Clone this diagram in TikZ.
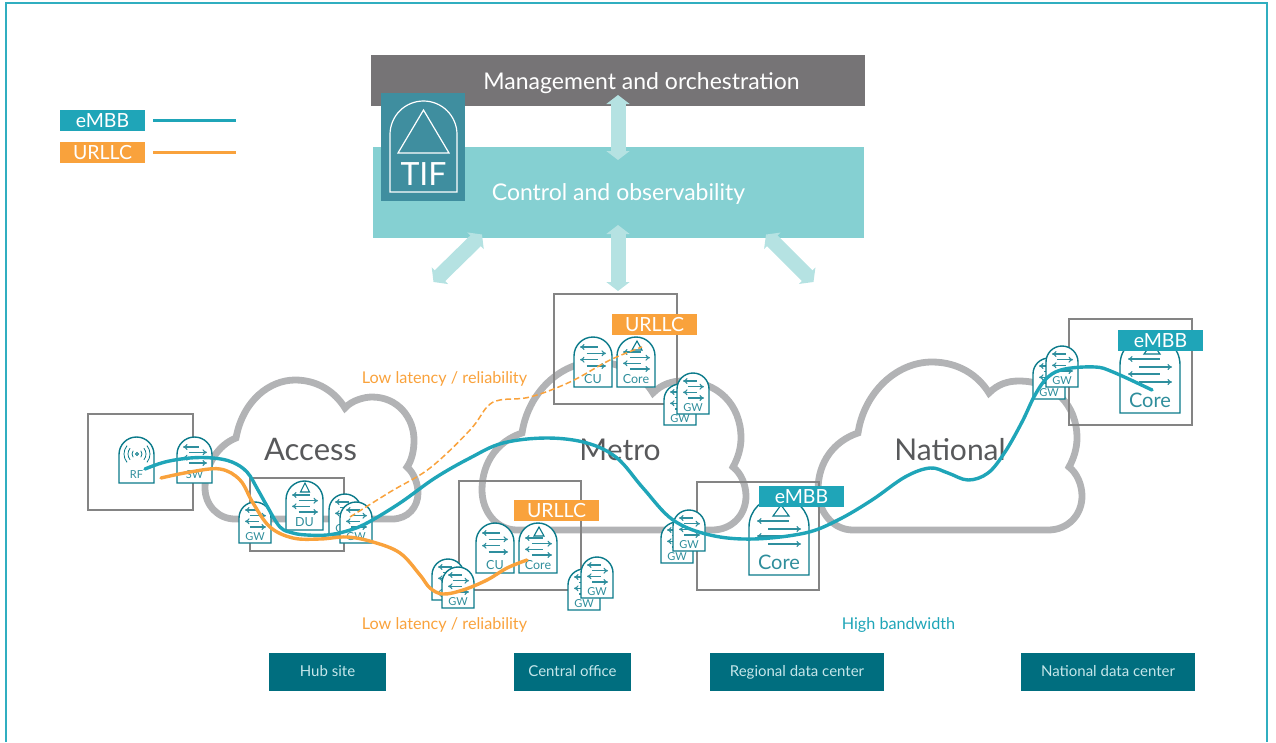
\documentclass[tikz,border=0pt]{standalone}
\usepackage{fontspec}
\setmainfont{Lato}
\usetikzlibrary{arrows.meta}
\definecolor{framecol}{HTML}{30AEC0}
\definecolor{mgmtcol}{HTML}{767476}
\definecolor{ctrlcol}{HTML}{85D0D2}
\definecolor{tifcol}{HTML}{3F8E9F}
\definecolor{fatcol}{HTML}{B5E2E2}
\definecolor{embbcol}{HTML}{1FA5B8}
\definecolor{urllccol}{HTML}{F9A23C}
\definecolor{cloudcol}{HTML}{B2B3B5}
\definecolor{sitecol}{HTML}{006E7F}
\definecolor{sitetext}{HTML}{C5E6EA}
\definecolor{devcol}{HTML}{0A7A8A}
\definecolor{arrowcol}{HTML}{2F8F9E}
\definecolor{cloudtext}{HTML}{58595B}
\definecolor{boxcol}{HTML}{848484}
\tikzset{
    panel/.style={inner sep=0pt,text=white,font=\fontsize{23}{27}\selectfont},
    fatarrow/.style={draw=fatcol,line width=15pt,{Triangle[length=9pt,width=23pt]}-{Triangle[length=9pt,width=23pt]}},
    tagbox/.style={inner sep=0pt,minimum width=85pt,minimum height=21pt,text height=13.5pt,text depth=0pt,text=white,font=\fontsize{19.5}{22}\selectfont},
    sitebox/.style={fill=sitecol,inner sep=0pt,minimum height=38pt,text height=11pt,text depth=3pt,text=sitetext,font=\fontsize{15}{18}\selectfont},
    cloudline/.style={draw=cloudcol,line width=6.8pt,line join=miter},
    cloudlabel/.style={inner sep=0pt,text=cloudtext,font=\fontsize{30}{35}\selectfont},
    sitearea/.style={draw=boxcol,line width=1.3pt},
    devline/.style={draw=devcol,fill=white,line width=1.4pt},
    devarrow/.style={draw=arrowcol,line width=1.1pt,>={To[length=4.5pt,width=6pt]}},
    wire/.style={line width=3.4pt,line cap=round,smooth,tension=.6},
    note/.style={inner sep=0pt,font=\fontsize{16.2}{19}\selectfont},
}
%% dome outline with its label: name, left, top, width, height, label, drop of label, size
\newcommand{\devicebox}[8]{%
    \draw[devline] (#2,#3+#5) -- (#2,#3+#4/2) arc[start angle=180,end angle=360,radius=#4/2] -- (#2+#4,#3+#5) -- cycle;
    \node[inner sep=0pt,text=devcol!85,font=\fontsize{#8}{#8}\selectfont] (#1) at (#2+#4/2,#3+#5-#7) {#6};
}
%% four arrows: left, top, width, height
\newcommand{\arrowset}[4]{%
    \draw[devarrow,<-] (#1,#2) -- (#1+.68*#3,#2);
    \draw[devarrow,->] (#1+.25*#3,#2+#4/3) -- (#1+#3,#2+#4/3);
    \draw[devarrow,<-] (#1,#2+2*#4/3) -- (#1+.68*#3,#2+2*#4/3);
    \draw[devarrow,->] (#1+.25*#3,#2+#4) -- (#1+#3,#2+#4);
}
%% small triangle: apex x, apex y, half base, base y
\newcommand{\tritop}[4]{%
    \draw[draw=devcol,line width=1.1pt] (#1,#2) -- (#1-#3,#4) -- (#1+#3,#4) -- cycle;
}
%% gateway icon: name, left, top
\newcommand{\gwbox}[3]{%
    \devicebox{#1}{#2}{#3}{32}{41}{GW}{6}{11}
    \arrowset{#2+6}{#3+8}{21}{17}
}
\newcommand{\cloudshape}{%
    (522,433) .. controls (528,393) and (560,362) .. (596,362) .. controls (622,362) and (642,375) .. (653,393)
    .. controls (662,384) and (672,381) .. (683,381) .. controls (718,381) and (741,405) .. (741,438)
    .. controls (741,448) and (738,458) .. (733,467) .. controls (741,473) and (746,485) .. (746,496)
    .. controls (746,515) and (732,530) .. (712,530) -- (517,530) .. controls (497,530) and (482,512) .. (482,490)
    .. controls (482,462) and (498,441) .. (522,433) -- cycle
}
\begin{document}
\begin{tikzpicture}[x=1pt,y=-1pt]
    \useasboundingbox (0,0) rectangle (1276,742);
    %% Frame
    \draw[framecol,line width=2pt] (5.5,742) -- (5.5,2.5) -- (1267,2.5) -- (1267,742);
    %% Legend
    \node[tagbox,fill=embbcol]  (legembb) at (102.5,120.5) {eMBB};
    \node[tagbox,fill=urllccol] (legurllc) at (102.5,152.5) {URLLC};
    \coordinate (legembbend) at (236,120.5);
    \coordinate (legurllcend) at (236,152.5);
    \draw[embbcol,line width=3.4pt] (153,120.5) -- (legembbend);
    \draw[urllccol,line width=3.4pt] (153,152.5) -- (legurllcend);
    %% Upper panels
    \node[panel,fill=mgmtcol,minimum width=494pt,minimum height=51pt] (mgmt) at (618,80.5) {};
    \node[panel] (mgmttext) at (641.5,83) {Management and orchestration};
    \node[panel,fill=ctrlcol,minimum width=491pt,minimum height=91pt] (ctrl) at (618.5,192.5) {};
    \node[panel] (ctrltext) at (618.5,194) {Control and observability};
    \coordinate (mgmtend) at (618,95);
    \coordinate (ctrlend) at (618,160);
    \coordinate (ctrlmid) at (618,225);
    \coordinate (metroend) at (618,291);
    \coordinate (ctrlleft) at (482,234.5);
    \coordinate (accessend) at (433.5,282);
    \coordinate (ctrlright) at (766,234.5);
    \coordinate (natend) at (813.5,282);
    \draw[fatarrow] (mgmtend) -- (ctrlend);
    \draw[fatarrow] (ctrlmid) -- (metroend);
    \draw[fatarrow] (ctrlleft) -- (accessend);
    \draw[fatarrow] (ctrlright) -- (natend);
    %% TIF
    \node[fill=tifcol,inner sep=0pt,minimum width=84pt,minimum height=108pt] (tif) at (423,147) {};
    \draw[white,line width=1.2pt] (390,192) -- (390,134.5) arc[start angle=180,end angle=360,radius=33.5] -- (457,192) -- cycle;
    \draw[white,line width=1.2pt] (423.5,110) -- (398,153) -- (449,153) -- cycle;
    \node[inner sep=0pt,text=white,font=\fontsize{32}{36}\selectfont] (tiftext) at (423.5,174) {TIF};
    %% Clouds
    \draw[cloudline] (236,438) .. controls (243,400) and (270,380) .. (295,380) .. controls (318,380) and (335,392) .. (345,408)
        .. controls (352,400) and (365,397) .. (372,397) .. controls (398,397) and (414,418) .. (414,440)
        .. controls (414,450) and (412,460) .. (407,467) .. controls (414,473) and (418,484) .. (418,493)
        .. controls (418,507) and (408,519) .. (392,519) -- (235,519) .. controls (218,519) and (205,505) .. (205,488)
        .. controls (205,465) and (218,445) .. (236,438) -- cycle;
    \draw[cloudline] \cloudshape;
    \draw[cloudline,shift={(336,0)}] \cloudshape;
    \node[cloudlabel,font=\fontsize{31}{36}\selectfont] (access) at (310.5,450) {Access};
    \node[cloudlabel] (metro) at (620,450) {Metro};
    \node[cloudlabel] (national) at (950,450) {National};
    %% Site areas
    \draw[sitearea] (88,414) rectangle (193,510);
    \draw[sitearea] (250,478) rectangle (344,551);
    \draw[sitearea] (459,481) rectangle (581,590);
    \draw[sitearea] (554,294) rectangle (677,404);
    \draw[sitearea] (697,482) rectangle (819,590);
    \draw[sitearea] (1069,319) rectangle (1192,425);
    %% Radio and switch
    \devicebox{rf}{119}{437}{35}{46}{RF}{8}{11}
    \draw[devline,fill=none,line width=.8pt] (137,454) circle [radius=1.5];
    \draw[devcol,line width=.8pt] ([shift={(140:5)}]137,454) arc[start angle=140,end angle=220,radius=5];
    \draw[devcol,line width=.8pt] ([shift={(140:9)}]137,454) arc[start angle=140,end angle=220,radius=9];
    \draw[devcol,line width=.8pt] ([shift={(140:13)}]137,454) arc[start angle=140,end angle=220,radius=13];
    \draw[devcol,line width=.8pt] ([shift={(-40:5)}]137,454) arc[start angle=-40,end angle=40,radius=5];
    \draw[devcol,line width=.8pt] ([shift={(-40:9)}]137,454) arc[start angle=-40,end angle=40,radius=9];
    \draw[devcol,line width=.8pt] ([shift={(-40:13)}]137,454) arc[start angle=-40,end angle=40,radius=13];
    \devicebox{sw}{177}{437}{35}{46}{SW}{8}{11}
    \arrowset{183}{447}{24}{16}
    %% Hub site
    \gwbox{hubgwa}{239}{502}
    \devicebox{du}{286}{481}{37}{49}{DU}{8}{12.5}
    \tritop{305}{483}{4.5}{492}
    \arrowset{292}{495}{26}{17}
    \gwbox{hubgwb}{329}{494}
    \gwbox{hubgwc}{340}{502}
    %% Central office
    \gwbox{cogwa}{432}{559}
    \gwbox{cogwb}{442}{567}
    \devicebox{cocu}{476}{523}{38}{50}{CU}{8}{12.5}
    \arrowset{482}{533}{26}{19}
    \devicebox{cocore}{519}{523}{38}{50}{Core}{8}{12.5}
    \tritop{539}{527}{5}{536}
    \arrowset{525}{538}{27}{17}
    \gwbox{cogwc}{568}{569}
    \gwbox{cogwd}{581}{557}
    %% Metro site
    \devicebox{mecu}{574}{337}{38}{50}{CU}{8}{12.5}
    \arrowset{580}{347}{26}{19}
    \devicebox{mecore}{617}{337}{38}{50}{Core}{8}{12.5}
    \tritop{637}{341}{5}{350}
    \arrowset{623}{352}{27}{17}
    \gwbox{megwa}{664}{384}
    \gwbox{megwb}{677}{373}
    %% Regional data center
    \gwbox{reggwa}{661}{522}
    \gwbox{reggwb}{673}{510}
    \devicebox{regcore}{749}{497}{60}{78}{Core}{13}{20}
    \tritop{781}{505}{8}{516}
    \draw[devarrow,<-] (757,521) -- (789,521);
    \draw[devarrow,->] (768,529) -- (801,529);
    \draw[devarrow,<-] (757,536) -- (789,536);
    \draw[devarrow,->] (768,544) -- (801,544);
    %% National data center
    \gwbox{natgwa}{1033}{358}
    \gwbox{natgwb}{1046}{346}
    \devicebox{natcore}{1120}{335}{60}{78}{Core}{13}{20}
    \tritop{1152}{343}{8}{354}
    \draw[devarrow,<-] (1128,359) -- (1160,359);
    \draw[devarrow,->] (1139,367) -- (1172,367);
    \draw[devarrow,<-] (1128,374) -- (1160,374);
    \draw[devarrow,->] (1139,382) -- (1172,382);
    %% Paths
    \coordinate (embbstart) at (145,469);
    \coordinate (embbend) at (1152,390);
    \draw[embbcol,wire] plot coordinates {(embbstart) (165,462) (190,458) (213,458) (232,462) (247,472) (258,490) (267,506) (280,527) (293,533) (307,535)
        (327,535) (347,531) (367,523) (400,503) (435,478) (470,458) (503,443) (547,438) (587,443) (617,458) (643,488) (673,520) (710,535) (753,539)
        (805,533) (838,520) (872,500) (905,477) (930,468) (948,473) (968,480) (988,473) (1005,452) (1022,422) (1035,395) (1048,377) (1065,369) (1095,367) (1113,372) (embbend)};
    \coordinate (urllcstart) at (161,478);
    \coordinate (urllcend) at (527,560);
    \draw[urllccol,wire] plot coordinates {(urllcstart) (190,472) (220,469) (240,480) (253,503) (270,527) (293,538) (320,539) (347,537) (373,542) (400,553)
        (420,575) (430,588) (443,594) (463,590) (487,580) (507,568) (urllcend)};
    \coordinate (dashstart) at (350,517);
    \coordinate (dashend) at (642,347);
    \draw[urllccol,line width=1.5pt,dashed,dash pattern=on 6pt off 3pt,smooth,tension=.6] plot coordinates {(dashstart) (390,492) (430,468) (470,430) (487,407) (500,400) (530,397) (570,382) (610,360) (dashend)};
    %% Tags
    \node[tagbox,fill=urllccol] (cotag) at (556.5,510.5) {URLLC};
    \node[tagbox,fill=urllccol] (metag) at (654.5,324.5) {URLLC};
    \node[tagbox,fill=embbcol] (regtag) at (801.5,496.5) {eMBB};
    \node[tagbox,fill=embbcol] (nattag) at (1160.5,340.5) {eMBB};
    %% Notes
    \node[note,text=urllccol] (noteup) at (444.5,379) {Low latency / reliability};
    \node[note,text=urllccol] (notedown) at (444.5,625) {Low latency / reliability};
    \node[note,text=embbcol] (notehigh) at (898.5,625) {High bandwidth};
    %% Site names
    \node[sitebox,minimum width=117pt] (hub) at (327.5,672) {Hub site};
    \node[sitebox,minimum width=117pt] (central) at (572.5,672) {Central office};
    \node[sitebox,minimum width=174pt] (regional) at (797,672) {Regional data center};
    \node[sitebox,minimum width=174pt] (nationaldc) at (1108,672) {National data center};
\end{tikzpicture}
\end{document}
